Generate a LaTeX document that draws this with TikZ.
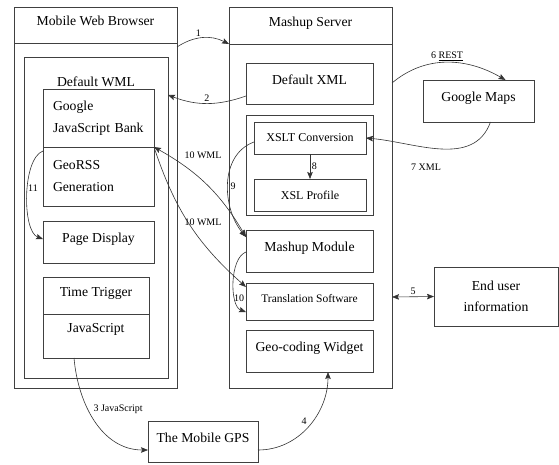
\documentclass[tikz,border=0pt]{standalone}
\usepackage{fontspec}
\setmainfont{Liberation Serif}
\usepackage{tikz}
\usetikzlibrary{arrows.meta}

\begin{document}
\begin{tikzpicture}[x=1pt,y=-1pt,>={Stealth[length=7pt,width=5.5pt,inset=1.2pt]},auto,thin]
  \tikzset{every node/.style={font=\fontsize{13.7}{22}\selectfont},
    box/.style={draw=black!75, line width=0.8pt, anchor=north west, inner sep=0pt, outer sep=0pt},
    onebox/.style={box, text height=10pt, text depth=9pt},
    flow/.style={->, draw=black!80, line width=0.6pt},
    tag/.style={font=\fontsize{10}{12}\selectfont, inner sep=1.5pt}}
  \useasboundingbox (0,0) rectangle (559,464);

  % mobile side
  \node[onebox, minimum width=163pt, minimum height=36pt] (mwb) at (14,7) {Mobile Web Browser};
  \node[box, minimum width=163pt, minimum height=345pt] (mwbbody) at (14,43) {};
  \node[box, minimum width=144pt, minimum height=321pt] (dwml) at (24,57) {};
  \node (dwmltext) at (96,82) {Default WML};
  \node[box, minimum width=111pt, minimum height=58pt, text width=91pt, inner xsep=10pt, align=left] (gjb) at (43,89) {Google\\JavaScript Bank};
  \node[box, minimum width=111pt, minimum height=59pt, text width=91pt, inner xsep=10pt, align=left] (georss) at (43,147) {GeoRSS\\Generation};
  \node[onebox, minimum width=111pt, minimum height=42pt] (pd) at (43,221) {Page Display};
  \node[onebox, minimum width=106pt, minimum height=37pt] (tt) at (43,277) {Time Trigger};
  \node[onebox, text depth=17pt, minimum width=106pt, minimum height=44pt] (js) at (43,314) {JavaScript};

  % server side
  \node[onebox, minimum width=163pt, minimum height=37pt] (ms) at (229,7) {Mashup Server};
  \node[box, minimum width=163pt, minimum height=344pt] (msbody) at (229,44) {};
  \node[onebox, minimum width=127pt, minimum height=41pt] (dxml) at (246,63) {Default XML};
  \node[box, minimum width=127pt, minimum height=100pt] (xsltgrp) at (246,115) {};
  \node[box, minimum width=112pt, minimum height=32pt, font=\fontsize{12}{14}\selectfont] (xsltc) at (254,122) {XSLT Conversion};
  \node[box, minimum width=112pt, minimum height=32pt, font=\fontsize{12}{14}\selectfont] (xslp) at (254,179) {XSL Profile};
  \node[onebox, minimum width=127pt, minimum height=42pt] (mm) at (246,230) {Mashup Module};
  \node[onebox, minimum width=127pt, minimum height=37pt, font=\fontsize{11.5}{14}\selectfont] (ts) at (246,283) {Translation Software};
  \node[onebox, minimum width=127pt, minimum height=42pt] (ge) at (246,330) {Geo-coding Widget};

  % outside
  \node[onebox, minimum width=111pt, minimum height=42pt] (gm) at (423,80) {Google Maps};
  \node[box, minimum width=124pt, minimum height=59pt, align=center, font=\fontsize{13.7}{21}\selectfont] (eui) at (434,267) {End user\\information};
  \node[onebox, minimum width=110pt, minimum height=41pt] (gps) at (148,421) {The Mobile GPS};

  % connectors
  \draw[flow] ([yshift=-4pt]mwbbody.north east) to[bend left=30] node[tag] (e1) {1} (msbody.north west);
  \draw[flow] ([yshift=-12.5pt]dxml.west) to[bend left=20] node[tag, swap] (e2) {2} ([yshift=-38pt]dwml.north east);
  \draw[flow] ([yshift=-39pt]msbody.north east) to[out=40,in=150] node[tag] (e6) {6 \underline{REST}} ([xshift=27pt]gm.north);
  \draw[flow] ([xshift=12pt]gm.south) to[out=-110,in=-5] (xsltc.east);
  \node[tag] (e7) at (426,167) {7 XML};
  \draw[flow] (xsltc) -- node[tag] (e8) {8} (xslp);
  \draw[flow] ([yshift=-4pt]xsltc.west) to[out=200,in=130] ([yshift=-7pt]mm.north west);
  \node[tag] (e9) at (233,186) {9};
  \draw[flow,<->] (gjb.south east) to[bend left=15] ([yshift=-7pt]mm.north west);
  \node[tag] (e10a) at (203,155) {10 WML};
  \draw[flow] (gjb.south east) to[bend right=15] ([yshift=-4pt]ts.north west);
  \node[tag] (e10b) at (203,222) {10 WML};
  \draw[flow] ([yshift=-22pt]mm.north west) to[out=200,in=160,looseness=0.75] ([yshift=-29pt]ts.north west);
  \node[tag] (e10c) at (239,298) {10};
  \draw[flow] ([yshift=-4pt]georss.north west) to[out=200,in=160,looseness=0.65] ([yshift=-18pt]pd.north west);
  \node[tag] (e11) at (33,188) {11};
  \draw[flow] ([xshift=-22pt]js.south) to[out=-85,in=180] node[tag, pos=.45] (e3) {3 JavaScript} ([yshift=-8.5pt]gps.west);
  \draw[flow] ([yshift=-8.5pt]gps.east) to[out=0,in=-90] node[tag] (e4) {4} ([xshift=18.5pt]ge.south);
  \draw[flow,<->] ([yshift=-81pt]msbody.east) -- node[tag] (e5) {5} (eui.west);
\end{tikzpicture}
\end{document}
